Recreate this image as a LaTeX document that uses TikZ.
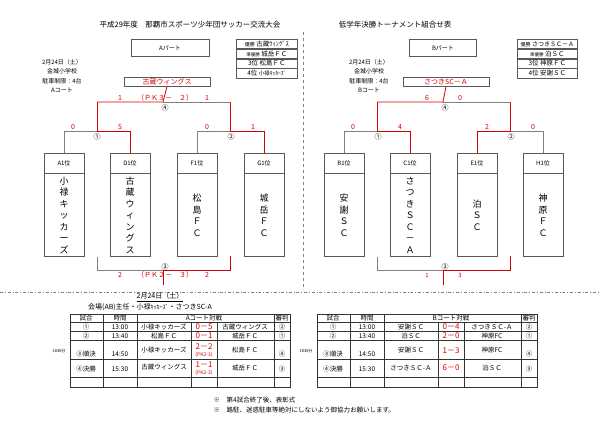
\documentclass[tikz,border=0pt]{standalone}
\usepackage{fontspec}
\setmainfont{Noto Sans CJK JP}
\usetikzlibrary{positioning}
\newcommand{\fs}[1]{\fontsize{#1}{#1}\selectfont}

\begin{document}
\begin{tikzpicture}[x=1pt, y=-1pt, line width=0.8pt]
\tikzset{
  seed/.style={draw=gray!70!black, line width=0.6pt, minimum width=40pt, minimum height=20pt, inner sep=0pt, font=\fs{6}},
  team/.style={draw=gray!70!black, line width=0.6pt, minimum width=40pt, minimum height=83pt, inner sep=0pt, align=center, font=\fontsize{9}{11.5}\selectfont},
  part/.style={draw=gray!70!black, line width=0.6pt, minimum width=78pt, minimum height=17pt, font=\fs{6}},
  champ/.style={draw=gray!70!black, line width=0.6pt, minimum width=86pt, minimum height=9pt, inner sep=0pt, text=red!85!black, font=\fs{7}},
  rank/.style={draw=gray!70!black, line width=0.6pt, minimum width=61pt, minimum height=9.2pt, inner sep=1pt, anchor=north west, font=\fs{6.5}},
  info/.style={align=center, font=\fontsize{6}{9.5}\selectfont},
  win/.style={red!85!black},
  lose/.style={gray},
  sc/.style={text=red!85!black, font=\fs{7}},
  rnd/.style={font=\fs{7}, inner sep=0pt},
  cell/.style={font=\fs{6.5}, inner sep=0pt},
  res/.style={text=red!85!black, font=\fs{8}, inner sep=0pt},
  grid/.style={gray!40!black, line width=0.5pt}
}
\useasboundingbox (0,0) rectangle (600,424);

% Titles
\node[font=\fs{7.5}] (titleA) at (190,25) {平成29年度　那覇市スポーツ少年団サッカー交流大会};
\node[font=\fs{7.5}] (titleB) at (395,25) {低学年決勝トーナメント組合せ表};
\draw[gray, line width=0.5pt, dashed] (303,32) -- (303,290);
\draw[gray, line width=0.6pt, dash dot] (0,292) -- (600,292);

% A part
\node[part] (partA) at (170,48) {Aパート};
\node[info] (infoA) at (62,76) {2月24日（土）\\金城小学校\\駐車制限：4台\\Aコート};
\node[rank] (rA1) at (236,39) {{\fs{5}優勝}\ 古蔵ｳｨﾝｸﾞｽ};
\node[rank, below=0pt of rA1] (rA2) {{\fs{4.5}準優勝}\ 城岳ＦＣ};
\node[rank, below=0pt of rA2] (rA3) {3位\ 松島ＦＣ};
\node[rank, below=0pt of rA3] (rA4) {4位\ {\fs{5.5}小禄ｷｯｶｰｽﾞ}};
\node[champ] (winA) at (167,81.5) {古蔵ウィングス};

\node[seed] (a1h) at (64,163) {A1位};
\node[team, below=0pt of a1h] (a1) {小\\禄\\キ\\ッ\\カ\\ー\\ズ};
\node[seed] (d1h) at (130,163) {D1位};
\node[team, below=0pt of d1h] (d1) {古\\蔵\\ウ\\ィ\\ン\\グ\\ス};
\node[seed] (f1h) at (197,163) {F1位};
\node[team, below=0pt of f1h] (f1) {松\\島\\Ｆ\\Ｃ};
\node[seed] (g1h) at (264,163) {G1位};
\node[team, below=0pt of g1h] (g1) {城\\岳\\Ｆ\\Ｃ};

% A brackets
\coordinate (sA1) at (97,131);
\coordinate (sA2) at (230,131);
\coordinate (fA) at (163,102);
\draw[lose] (a1h.north) |- (sA1);
\draw[win] (fA -| sA1) -- (sA1) -| (d1h.north);
\draw[lose] (f1h.north) |- (sA2);
\draw[win] (fA -| sA2) -- (sA2) -| (g1h.north);
\draw[lose] (fA) -- (fA -| sA2);
\draw[win] (winA.south) -- (fA) -- (fA -| sA1);
\draw[lose] (a1.south -| sA1) -- (97,270) -- (163,270);
\draw[win] (163,270) -- (230,270) -- (230,256);
\draw[win] (163,264) -- (163,285);
\node[rnd] (mA4) at (165,108) {④};
\node[rnd] (mA1) at (97,137) {①};
\node[rnd] (mA2) at (231,137) {②};
\node[rnd, fill=white] (mA3) at (165,267) {③};
\node[sc] at (120,98) {1};
\node[sc] at (165,98) {（ＰＫ３－　２）};
\node[sc] at (207,98) {1};
\node[sc] at (73,127) {0};
\node[sc] at (120,127) {5};
\node[sc] at (207,127) {0};
\node[sc] at (253,127) {1};
\node[sc] at (120,275) {2};
\node[sc] at (165,275) {（ＰＫ２－　３）};
\node[sc] at (207,275) {2};

% B part
\node[part, minimum width=67pt] (partB) at (443,48) {Bパート};
\node[info] (infoB) at (369,76) {2月24日（土）\\金城小学校\\駐車制限：4台\\Bコート};
\node[rank, minimum width=60pt] (rB1) at (517,39) {{\fs{5}優勝}\ {\fs{6}さつきＳＣ－Ａ}};
\node[rank, minimum width=60pt, below=0pt of rB1] (rB2) {{\fs{4.5}準優勝}\ 泊ＳＣ};
\node[rank, minimum width=60pt, below=0pt of rB2] (rB3) {3位\ 神原ＦＣ};
\node[rank, minimum width=60pt, below=0pt of rB3] (rB4) {4位\ 安謝ＳＣ};
\node[champ] (winB) at (446,81.5) {さつきSC－Ａ};

\node[seed] (b1h) at (344,163) {B1位};
\node[team, below=0pt of b1h] (b1) {安\\謝\\Ｓ\\Ｃ};
\node[seed] (c1h) at (410,163) {C1位};
\node[team, below=0pt of c1h] (c1) {さ\\つ\\き\\Ｓ\\Ｃ\\－\\Ａ};
\node[seed] (e1h) at (477,163) {E1位};
\node[team, below=0pt of e1h] (e1) {泊\\Ｓ\\Ｃ};
\node[seed] (h1h) at (543,163) {H1位};
\node[team, below=0pt of h1h] (h1) {神\\原\\Ｆ\\Ｃ};

% B brackets
\coordinate (sB1) at (377,131);
\coordinate (sB2) at (510,131);
\coordinate (fB) at (443,102);
\draw[lose] (b1h.north) |- (sB1);
\draw[win] (fB -| sB1) -- (sB1) -| (c1h.north);
\draw[lose] (h1h.north) |- (sB2);
\draw[win] (fB -| sB2) -- (sB2) -| (e1h.north);
\draw[lose] (fB) -- (fB -| sB2);
\draw[win] (winB.south) -- (fB) -- (fB -| sB1);
\draw[lose] (b1.south -| sB1) -- (377,270) -- (443,270);
\draw[win] (443,270) -- (510,270) -- (510,256);
\draw[win] (443,264) -- (443,285);
\node[rnd] (mB4) at (445,108) {④};
\node[rnd] (mB1) at (378,137) {①};
\node[rnd] (mB2) at (511,137) {②};
\node[rnd, fill=white] (mB3) at (445,267) {③};
\node[sc] at (427,98) {6};
\node[sc] at (460,98) {0};
\node[sc] at (353,127) {0};
\node[sc] at (400,127) {4};
\node[sc] at (487,127) {2};
\node[sc] at (533,127) {0};
\node[sc, font=\fs{6}] at (427,275) {1};
\node[sc, font=\fs{6}] at (460,275) {3};

% Tables
\node[font=\fs{7}, inner sep=0pt] (dateT) at (160,297) {\underline{2月24日（土）}};
\node[font=\fs{7}, inner sep=0pt] (chief) at (150,307) {会場(AB)主任・小禄{\fs{6}ｷｯｶｰｽﾞ}・さつきSC-A};
\foreach \dx in {0,247} {
  \draw[grid] (70+\dx,314) rectangle (290+\dx,387);
  \foreach \yy in {322,331,340,359,377}
    \draw[grid] (70+\dx,\yy) -- (290+\dx,\yy);
  \foreach \xx in {103,137,274}
    \draw[grid] (\xx+\dx,314) -- (\xx+\dx,387);
  \foreach \xx in {191,217}
    \draw[grid] (\xx+\dx,322) -- (\xx+\dx,387);
  \node[cell] at (86+\dx,318) {試合};
  \node[cell] at (120+\dx,318) {時間};
  \node[cell] at (282+\dx,318) {審判};
  \node[cell] at (86+\dx,327) {①};
  \node[cell] at (86+\dx,336) {②};
  \node[cell] at (86+\dx,354) {③順決};
  \node[cell] at (86+\dx,369) {④決勝};
  \node[cell] at (120+\dx,327) {13:00};
  \node[cell] at (120+\dx,336) {13:40};
  \node[cell] at (120+\dx,354) {14:50};
  \node[cell] at (120+\dx,369) {15:30};
  \node[cell] at (282+\dx,327) {②};
  \node[cell] at (282+\dx,336) {①};
  \node[cell] at (282+\dx,354) {④};
  \node[cell] at (282+\dx,369) {③};
  \node[font=\fs{4}] at (59+\dx,351) {1830分};
}
\node[cell] at (204,318) {Aコート対戦};
\node[cell] at (164,327) {小禄キッカーズ};
\node[res] at (204,327) {0－5};
\node[cell] at (245,327) {古蔵ウィングス};
\node[cell] at (164,336) {松島ＦＣ};
\node[res] at (204,336) {0－1};
\node[cell] at (245,336) {城岳ＦＣ};
\node[cell] at (164,350) {小禄キッカーズ};
\node[res] at (204,347) {2－2};
\node[res, font=\fs{5}] at (204,355) {(PK2-3)};
\node[cell] at (245,350) {松島ＦＣ};
\node[cell] at (164,367) {古蔵ウィングス};
\node[res] at (204,365) {1－1};
\node[res, font=\fs{5}] at (204,373) {(PK2-3)};
\node[cell] at (245,368) {城岳ＦＣ};

\node[cell] at (451,318) {Bコート対戦};
\node[cell] at (411,327) {安謝ＳＣ};
\node[res] at (451,327) {0－4};
\node[cell] at (492,327) {さつきＳＣ-Ａ};
\node[cell] at (411,336) {泊ＳＣ};
\node[res] at (451,336) {2－0};
\node[cell] at (492,336) {神原FC};
\node[cell] at (411,350) {安謝ＳＣ};
\node[res] at (451,351) {1－3};
\node[cell] at (492,350) {神原FC};
\node[cell] at (411,368) {さつきＳＣ-Ａ};
\node[res] at (451,368) {6－0};
\node[cell] at (492,368) {泊ＳＣ};

% Notes
\node[font=\fs{6.5}, anchor=west] (note1) at (210,400) {※　第4試合終了後、表彰式};
\node[font=\fs{6.5}, anchor=west] (note2) at (210,410) {※　路駐、迷惑駐車等絶対にしないよう御協力お願いします。};
\end{tikzpicture}
\end{document}
